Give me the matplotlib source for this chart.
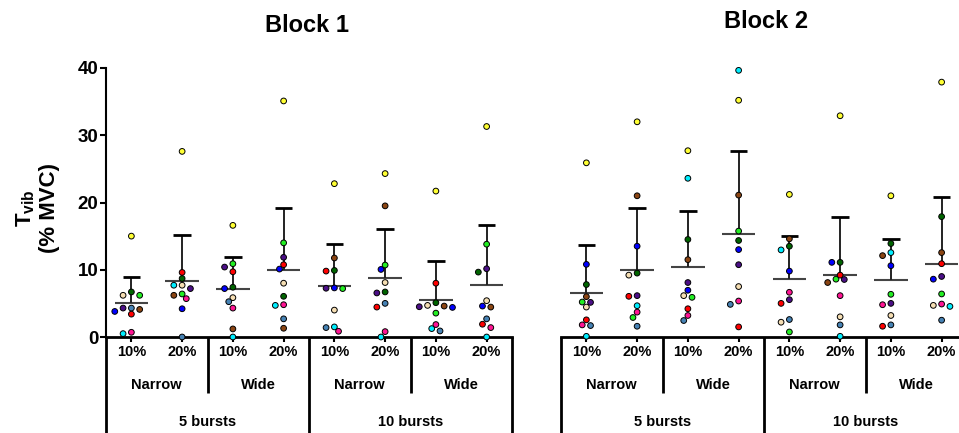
"""T_vib по блокам: точки по испытуемым + среднее и SD (только вверх), как в Prism."""
import numpy as np
import matplotlib.pyplot as plt

plt.rcParams['font.family'] = ['Liberation Sans', 'DejaVu Sans']
plt.rcParams['font.weight'] = 'bold'
plt.rcParams['mathtext.fontset'] = 'custom'
plt.rcParams['mathtext.rm'] = 'Liberation Sans:bold'
plt.rcParams['mathtext.bf'] = 'Liberation Sans:bold'

pct = ['10%', '20%'] * 4
width_lbl = ['Narrow', 'Wide'] * 2
bursts = ['5 bursts', '10 bursts']
titles = ['Block 1', 'Block 2']
# один цвет = один испытуемый (порядок столбцов в блоках ниже)
subj_colors = ['#ffff33', '#006400', '#f5deb3', '#22ee22', '#4682b4', '#4b0f86',
               '#8b4513', '#0000ff', '#ff0000', '#00eeff', '#ff1493']

# строки: 10/20% Narrow, 10/20% Wide (5 bursts), то же для 10 bursts
block1 = [
    [15.0, 6.7, 6.2, 6.2, 4.3, 4.3, 4.1, 3.8, 3.4, 0.5, 0.7],
    [27.6, 8.7, 7.7, 6.4, 0.0, 7.2, 6.2, 4.2, 9.6, 7.7, 5.7],
    [16.6, 7.4, 5.85, 10.9, 5.25, 10.4, 1.2, 7.2, 9.7, 0.0, 4.3],
    [35.1, 6.05, 8.0, 14.0, 2.7, 11.85, 1.3, 10.1, 10.75, 4.7, 4.8],
    [22.8, 9.9, 4.0, 7.2, 1.4, 7.25, 11.75, 7.3, 9.8, 1.5, 0.85],
    [24.3, 6.7, 8.1, 10.7, 5.0, 6.55, 19.5, 10.05, 4.45, 0.0, 0.8],
    [21.7, 5.1, 4.7, 3.55, 0.9, 4.5, 4.6, 4.4, 8.0, 1.25, 1.85],
    [31.3, 9.65, 5.4, 13.8, 2.7, 10.15, 4.45, 4.6, 1.9, 0.0, 1.4],
]
block2 = [
    [25.9, 7.8, 4.45, 5.2, 1.7, 5.15, 6.0, 10.8, 2.55, 0.1, 1.8],
    [32.0, 9.5, 9.2, 2.9, 1.6, 6.15, 21.0, 13.5, 6.05, 4.65, 3.7],
    [27.7, 14.5, 6.15, 5.9, 2.45, 8.1, 11.5, 6.95, 4.2, 23.6, 3.2],
    [35.2, 14.35, 7.5, 15.75, 4.85, 10.75, 21.1, 13.0, 1.5, 39.65, 5.35],
    [21.2, 13.5, 2.2, 0.75, 2.6, 5.55, 14.6, 9.8, 5.0, 12.95, 6.65],
    [32.9, 11.1, 3.0, 8.6, 1.8, 8.55, 8.1, 11.1, 9.2, 0.1, 6.15],
    [21.0, 13.9, 3.2, 6.35, 1.8, 5.0, 12.1, 10.6, 1.6, 12.55, 4.8],
    [37.9, 17.9, 4.7, 6.4, 2.5, 9.0, 12.55, 8.6, 10.9, 4.55, 4.9],
]

W, H = 959, 433
fig = plt.figure(figsize=(W / 100, H / 100), dpi=100)


def swarm(vals, sx=50.75, sy=6.725, d=5.6, step=4.15):
    # раздвигаем точки по x, чтобы не налезали (в пикселях)
    offs, placed = np.zeros(len(vals)), []
    for i in np.argsort(-np.asarray(vals), kind='stable'):
        y = vals[i] * sy
        for k in [0, -1, 1, -2, 2, -3, 3, -4, 4, -5, 5]:
            x = k * step
            if all(np.hypot(x - px, y - py) >= d for px, py in placed):
                break
        placed.append((x, y)); offs[i] = x / sx
    return offs


def panel(left, bottom, data, title, tx, ty, yaxis):
    ax = fig.add_axes([left / W, bottom / H, 406 / W, 269 / H])
    ax.set_xlim(-.5, 7.5); ax.set_ylim(0, 40)
    for j, vals in enumerate(data):
        v = np.array(vals)
        ax.scatter(j + swarm(v), v, c=subj_colors, s=17, edgecolors='black', linewidths=.7,
                   zorder=3, clip_on=False)
        m, sd = v.mean(), v.std(ddof=1)
        ax.hlines(m, j - .33, j + .33, color='#444444', lw=1.5, zorder=2)
        ax.vlines(j, m, m + sd, color='#222222', lw=1.4, zorder=2)
        ax.hlines(m + sd, j - .17, j + .17, color='black', lw=2, zorder=2)
    for s in ['top', 'right']:
        ax.spines[s].set_visible(False)
    ax.spines['bottom'].set_linewidth(2)
    ax.set_xticks(range(8), pct)
    ax.tick_params(axis='x', length=3.5, width=1.5, labelsize=10.5, pad=2.5)
    if yaxis:
        ax.spines['left'].set_linewidth(1.5)
        ax.set_yticks([0, 10, 20, 30, 40])
        ax.tick_params(axis='y', length=4.5, width=1.5, labelsize=13.5, pad=1)
    else:
        ax.spines['left'].set_visible(False); ax.set_yticks([])
    # таблица категорий под осью
    tr = ax.get_xaxis_transform()
    for x, yb in [(-.5, -.5), (1.5, -.208), (3.5, -.5), (5.5, -.208), (7.5, -.5)]:
        ax.plot([x, x], [0, yb], transform=tr, color='black', lw=2, clip_on=False,
                solid_capstyle='butt')
    for k, lbl in enumerate(width_lbl):
        ax.text(.5 + 2 * k, -.178, lbl, transform=tr, ha='center', va='center', size=10.5)
    for k, lbl in enumerate(bursts):
        ax.text(1.5 + 4 * k, -.316, lbl, transform=tr, ha='center', va='center', size=10.5)
    fig.text(tx / W, 1 - ty / H, title, ha='center', va='center', size=17)
    return ax


panel(106, H - 337, block1, titles[0], 307, 26, True)
panel(561, H - 337, block2, titles[1], 766, 22, False)
fig.text(37 / W, 1 - 208 / H, 'T$_{\\mathbf{vib}}$\n(% MVC)', rotation=90, ha='center', va='center',
         multialignment='center', size=16, linespacing=1.1)
fig.savefig('out.png', dpi=100)
